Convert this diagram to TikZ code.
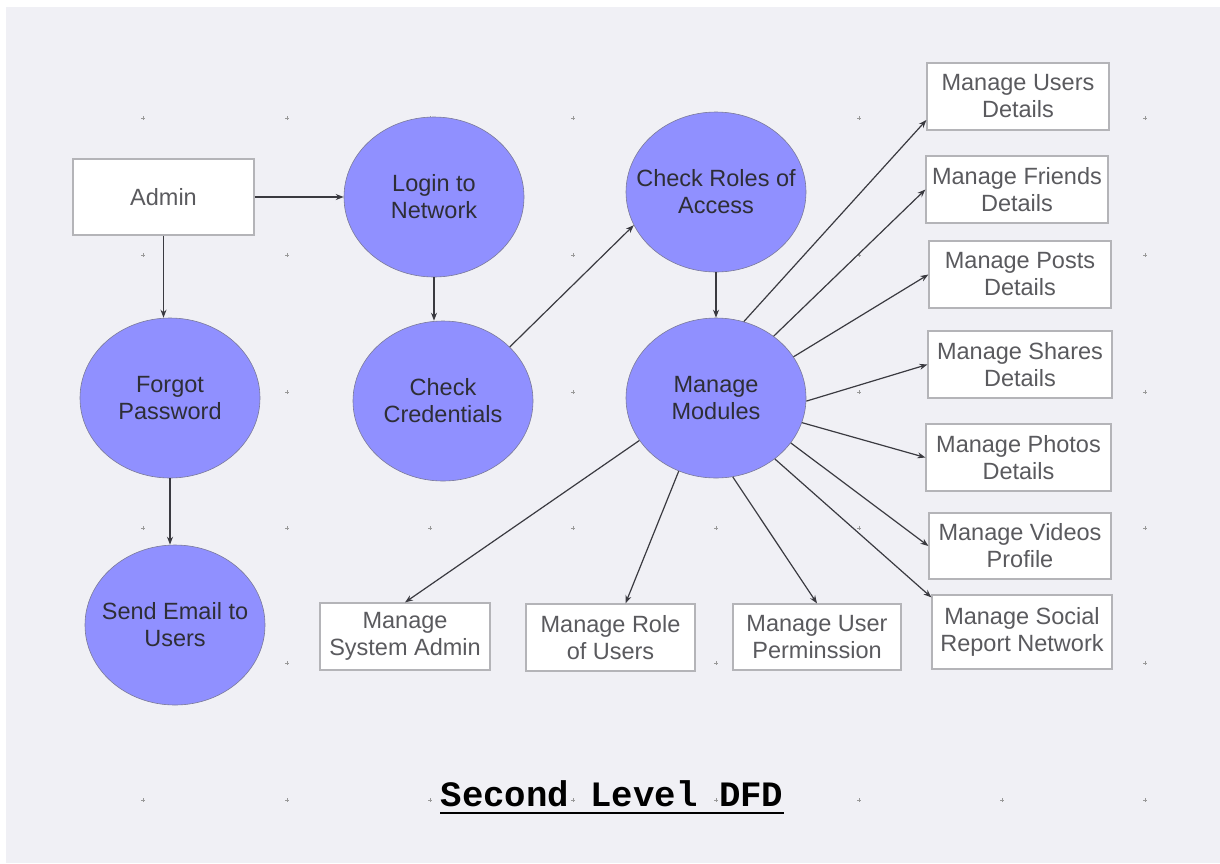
\documentclass[tikz,border=0pt]{standalone}
\usepackage{fontspec}
\setmainfont{Liberation Sans}
\newfontfamily\titlefont{Liberation Mono}
\usetikzlibrary{arrows.meta,shapes.geometric}
\definecolor{bgc}{HTML}{F0F0F5}
\definecolor{proc}{HTML}{9090FF}
\definecolor{procline}{HTML}{7A7A9A}
\definecolor{boxline}{HTML}{B4B4B8}
\definecolor{boxtext}{HTML}{5A5A5E}
\definecolor{proctext}{HTML}{2E2E36}
\definecolor{arr}{HTML}{3A3A40}
\tikzset{
  procnode/.style={ellipse, draw=procline, line width=0.6pt, fill=proc,
    minimum width=180pt, minimum height=160pt, inner sep=0pt},
  proclabel/.style={inner sep=0pt, align=center,
    text=proctext, font=\fontsize{23.5}{27}\selectfont},
  entbox/.style={rectangle, draw=boxline, line width=1.2pt, fill=white,
    inner sep=0pt, align=center, text=boxtext, font=\fontsize{23.5}{27}\selectfont},
  flow/.style={draw=arr, line width=1.2pt, -{Stealth[length=8pt,width=6pt]}},
  griddot/.style={draw=black!40, line width=0.7pt}
}
\begin{document}
\begin{tikzpicture}[x=1pt,y=-1pt]
\useasboundingbox (0,0) rectangle (1220,863);
\fill[white] (0,0) rectangle (1220,863);
\fill[bgc] (6,7) rectangle (1220,863);
% grid dots
\foreach \gx in {143,287,430,573,716,859,1002,1145}{
  \foreach \gy in {118,255,392,528,663,800}{
    \draw[griddot] (\gx-2,\gy) -- (\gx+2,\gy) (\gx,\gy-2) -- (\gx,\gy+2);
  }
}
% processes
\node[procnode, label={[proclabel]center:{Login to\\Network}}] (login) at (434,197) {};
\node[procnode, label={[proclabel]center:{Check\\Credentials}}] (cc) at (443,401) {};
\node[procnode, label={[proclabel]center:{Forgot\\Password}}] (forgot) at (170,398) {};
\node[procnode, label={[proclabel]center:{Send Email to\\Users}}] (send) at (175,625) {};
\node[procnode, label={[proclabel]center:{Check Roles of\\Access}}] (roles) at (716,192) {};
\node[procnode, label={[proclabel]center:{Manage\\Modules}}] (mm) at (716,398) {};
% entities
\node[entbox, minimum width=181pt, minimum height=76pt] (admin) at (163.5,197) {Admin};
\node[entbox, minimum width=182pt, minimum height=67pt] (users) at (1018,96.5) {Manage Users\\Details};
\node[entbox, minimum width=182pt, minimum height=67pt] (friends) at (1017,189.5) {Manage Friends\\Details};
\node[entbox, minimum width=182pt, minimum height=67pt] (posts) at (1020,274.5) {Manage Posts\\Details};
\node[entbox, minimum width=184pt, minimum height=67pt] (shares) at (1020,364.5) {Manage Shares\\Details};
\node[entbox, minimum width=185pt, minimum height=67pt] (photos) at (1018.5,457.5) {Manage Photos\\Details};
\node[entbox, minimum width=182pt, minimum height=66pt] (videos) at (1020,546) {Manage Videos\\Profile};
\node[entbox, minimum width=180pt, minimum height=74pt] (social) at (1022,632) {Manage Social\\Report Network};
\node[entbox, minimum width=170pt, minimum height=67pt] (sysadmin) at (405,636.5) {Manage\\System Admin};
\node[entbox, minimum width=169pt, minimum height=67pt] (role) at (610.5,637.5) {Manage Role\\of Users};
\node[entbox, minimum width=168pt, minimum height=66pt] (perm) at (817,637) {Manage User\\Perminssion};
% flows
\draw[flow] (admin.east) -- (login.west);
\draw[flow] (admin.south) -- (admin.south |- forgot.north);
\draw[flow] (forgot.south) -- (forgot.south |- send.north);
\draw[flow] (login.south) -- (login.south |- cc.north);
\draw[flow] (cc.39) -- (roles.202);
\draw[flow] (roles.south) -- (mm.north);
\draw[flow] (mm.70.6) -- ([yshift=-23.5pt]users.west);
\draw[flow] (mm.47.4) -- (friends.west);
\draw[flow] (mm.28) -- (posts.west);
\draw[flow] (mm.-2) -- (shares.west);
\draw[flow] (mm.-16) -- (photos.west);
\draw[flow] (mm.-31) -- (videos.west);
\draw[flow] (mm.-46) -- ([yshift=-3pt]social.north west);
\draw[flow] (mm.209) -- (sysadmin.north);
\draw[flow] (mm.-117) -- ([xshift=15pt]role.north);
\draw[flow] (mm.-78) -- (perm.north);
% title
\node[anchor=base, font=\titlefont\bfseries\fontsize{35.7}{40}\selectfont, inner sep=0pt] (title) at (612,806) {Second Level DFD};
\draw[line width=2.5pt] (title.south west |- 0,813) -- (title.south east |- 0,813);
\end{tikzpicture}
\end{document}
